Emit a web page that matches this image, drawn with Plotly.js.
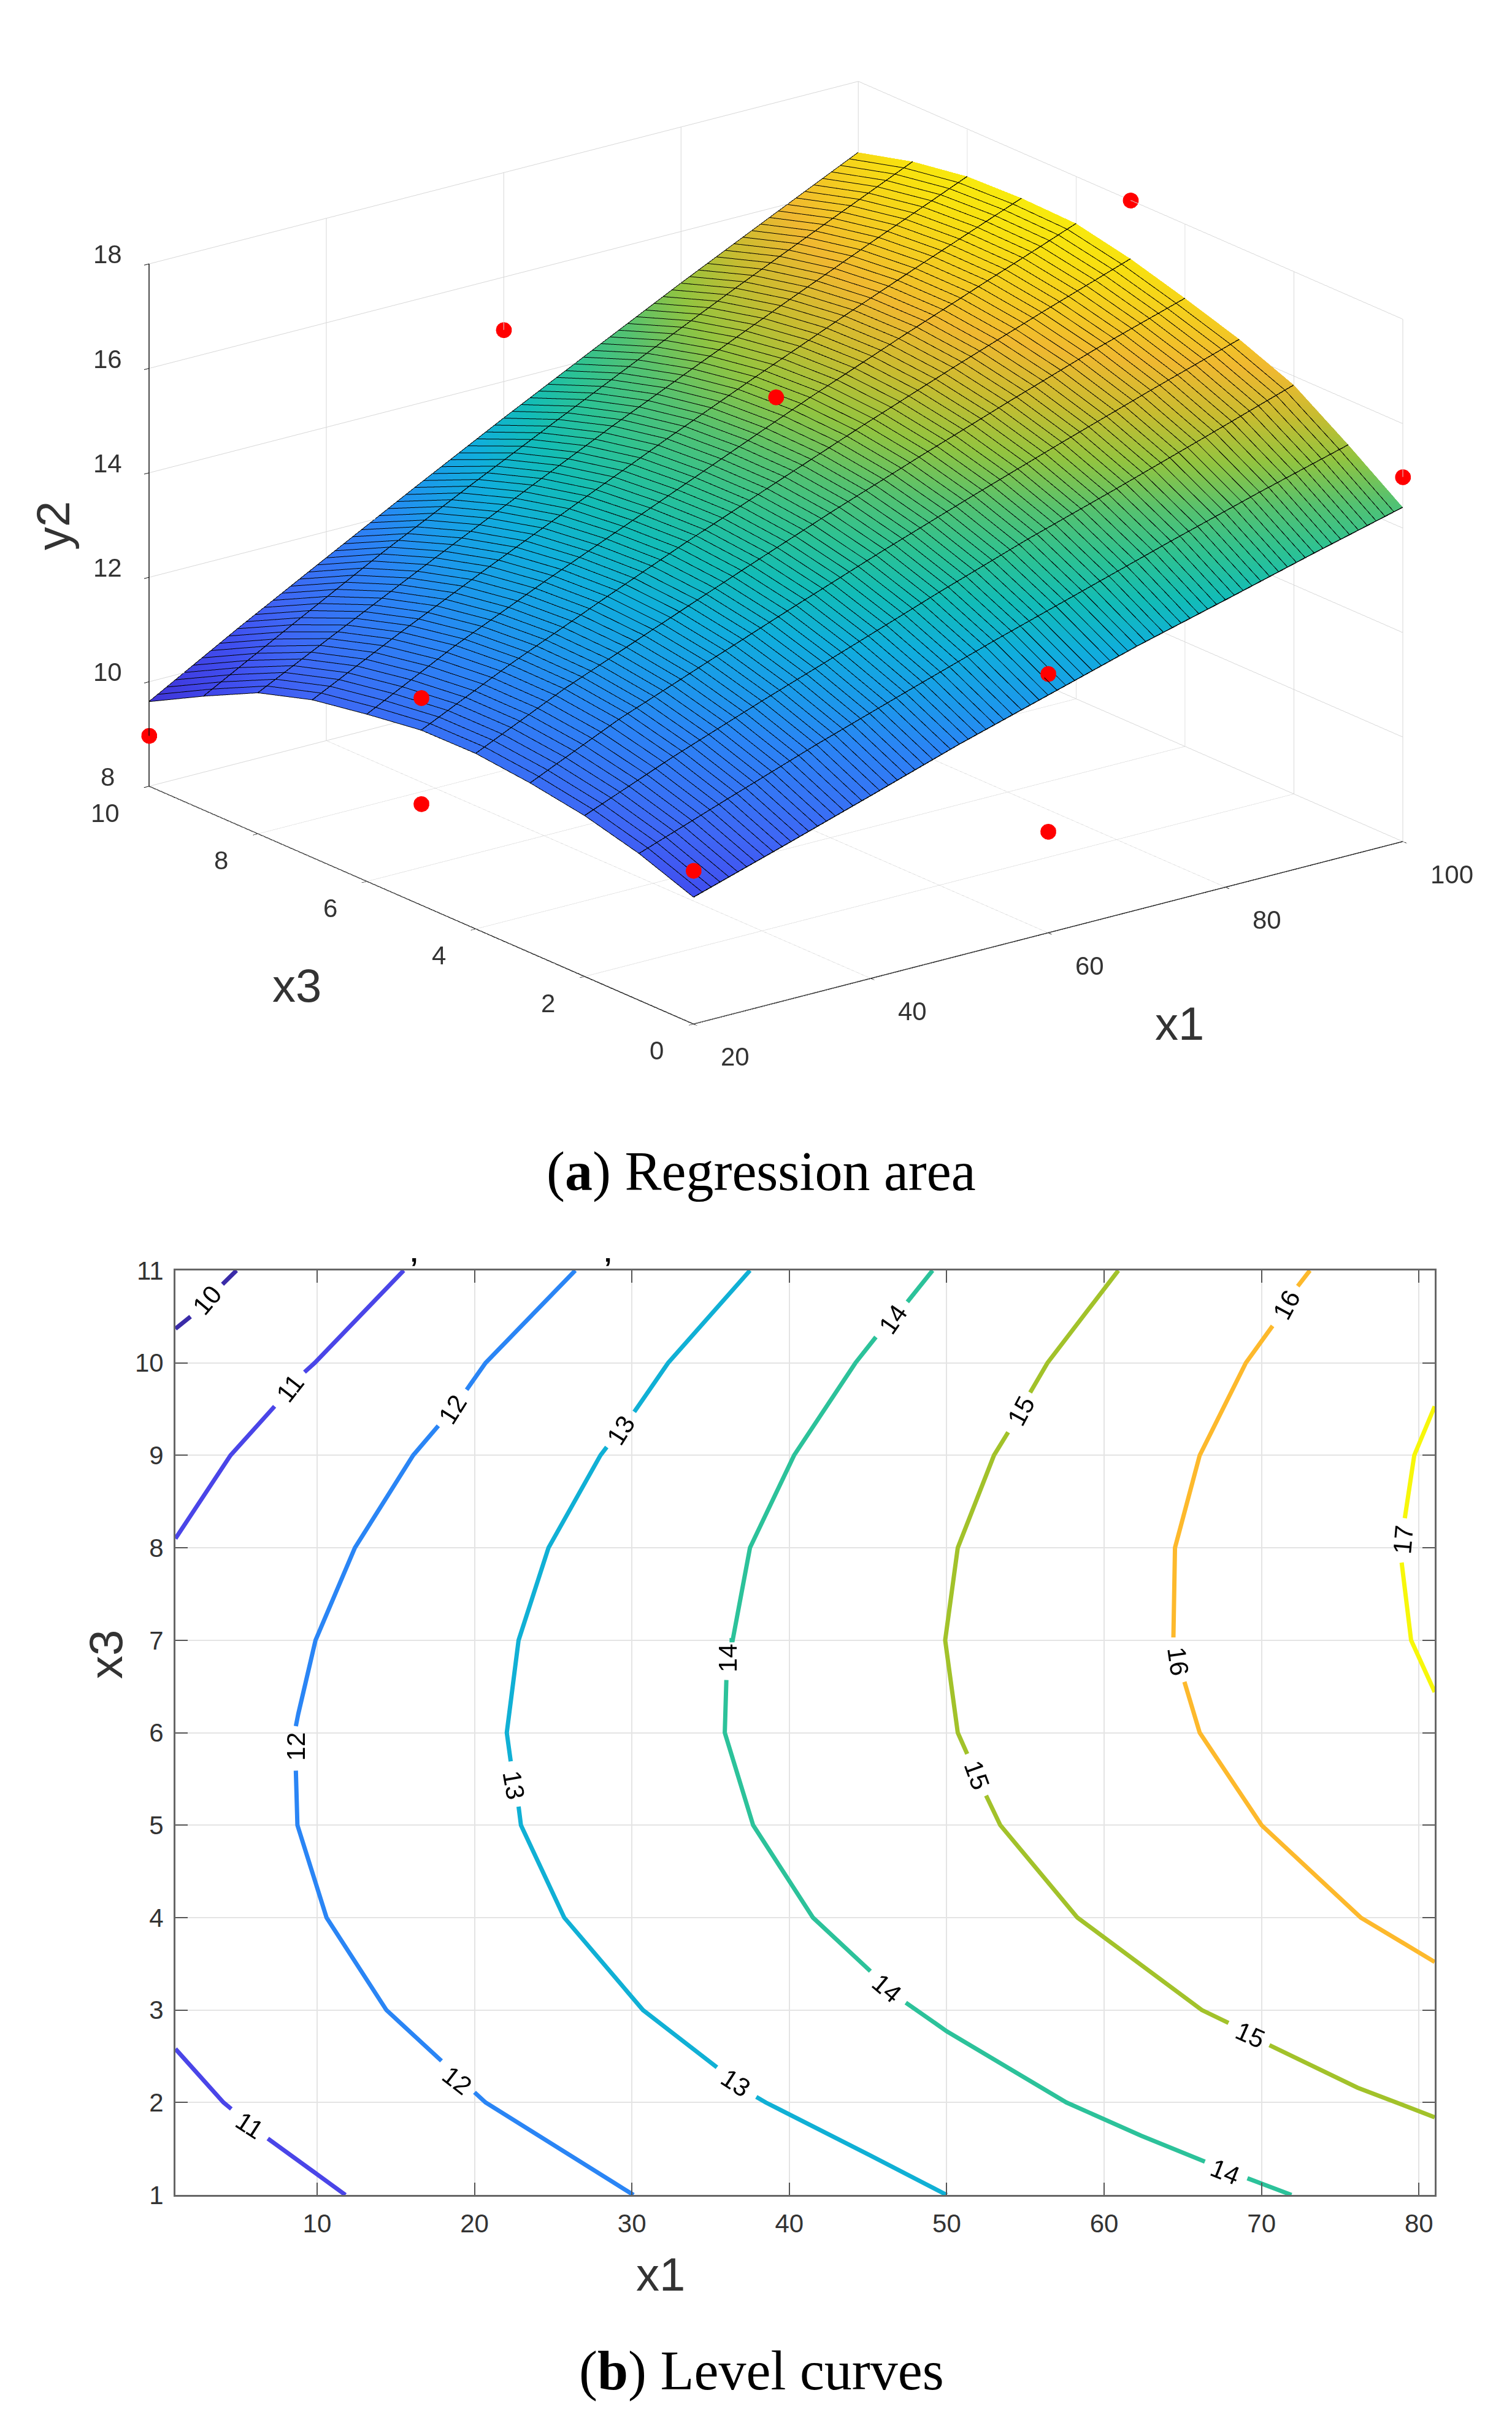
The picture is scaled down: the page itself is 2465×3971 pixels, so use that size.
<!DOCTYPE html>
<html>
<head>
<meta charset="utf-8">
<script src="https://cdn.plot.ly/plotly-3.0.1.min.js"></script>
<style>html,body{margin:0;padding:0;background:#fff}</style>
</head>
<body>
<div id="chart" style="width:2465px;height:3971px"></div>
<script>
// ---- Panel (a): regression surface
var x1Grid = [20,30,40,50,60,70,80,90,100];
var x3Grid = [0,1,2,3,4,5,6,7,8,9,10];
var y2AtX3_0  = [10.43,10.96,11.50,12.05,12.55,13.05,13.50,13.96,14.40];
var y2AtX3_1  = [10.81,11.42,12.02,12.58,13.13,13.65,14.17,14.67,15.14];
var y2AtX3_2  = [11.08,11.77,12.40,13.00,13.61,14.19,14.72,15.27,15.83];
var y2AtX3_3  = [11.25,12.03,12.69,13.34,13.97,14.57,15.15,15.71,16.25];
var y2AtX3_4  = [11.36,12.16,12.86,13.55,14.22,14.85,15.46,16.05,16.58];
var y2AtX3_5  = [11.35,12.17,12.92,13.65,14.34,15.02,15.67,16.29,16.88];
var y2AtX3_6  = [11.20,12.08,12.86,13.60,14.34,15.08,15.77,16.44,17.10];
var y2AtX3_7  = [11.02,11.88,12.70,13.49,14.27,15.02,15.75,16.45,17.13];
var y2AtX3_8  = [10.70,11.56,12.41,13.24,14.06,14.84,15.61,16.36,17.09];
var y2AtX3_9  = [10.18,11.11,12.03,12.89,13.73,14.56,15.37,16.15,16.92];
var y2AtX3_10 = [ 9.62,10.58,11.50,12.41,13.30,14.16,15.01,15.83,16.64];
var y2Surface = [y2AtX3_0,y2AtX3_1,y2AtX3_2,y2AtX3_3,y2AtX3_4,y2AtX3_5,y2AtX3_6,y2AtX3_7,y2AtX3_8,y2AtX3_9,y2AtX3_10];

var obsX1 = [20,20,20,20,60,60,60,60,100,100];
var obsX3 = [10,5,5,0,10,5,0,0,5,0];
var obsY2 = [8.97,11.97,9.94,10.94,14.99,15.98,12.96,9.94,18.0,14.98];

var x1Ticks3d = [20,40,60,80,100];
var x3Ticks3d = [0,2,4,6,8,10];
var y2Ticks3d = [8,10,12,14,16,18];

// ---- Panel (b): level curves (null = gap for the label)
var levels = [10,11,12,13,14,15,16,17];
var levelColors = ['#3a2ba8','#4a45e8','#2a85f5','#10b0d5','#2cc29a','#a2c22a','#fdb92c','#f7f70a'];
var surfaceStops = [9.5,10,10.5,11,12,12.5,13,13.5,14,14.5,15,15.5,16,16.8,17.5];
var surfaceColors = ['#4030d0','#4040e4','#4050f0','#3f66f5','#2a85f5','#1a9bea','#10aedc','#12bcb8','#2cc294','#55c270','#92c440','#c8bc30','#f0b830','#f8e010','#f7f70a'];
var c10x = [1,1.96,null,3.99,4.88];
var c10y = [10.37,10.5,null,10.85,11];
var c11ax = [1,4.5,7.3,null,9.2,9.85,15.5];
var c11ay = [8.1,9,9.53,null,9.9,10,11];
var c11bx = [1,4.05,4.55,null,6.87,11.8];
var c11by = [2.58,2,1.93,null,1.61,1];
var c12x = [26.4,20.7,19.5,null,17.7,16.1,12.4,9.9,8.8,8.65,null,8.65,8.75,10.6,14.4,17.9,null,20,20.7,30.1];
var c12y = [11,10,9.71,null,9.32,9,8,7,6.2,6.07,null,5.59,5,4,3,2.45,null,2.11,2,1];
var c13x = [37.5,32.3,30.15,null,28.4,28,24.7,22.8,22.05,22.3,null,22.8,22.95,25.7,30.7,35.4,null,37.9,38.5,45.1,50];
var c13y = [11,10,9.47,null,9.09,9,8,7,6,5.69,null,5.2,5,4,3,2.38,null,2.06,2,1.43,1];
var c14x = [49.1,47.5,null,45.5,44.2,40.3,37.5,36.4,36.2,null,36,35.9,37.7,41.5,45.15,null,47.4,50,57.6,62.35,66.4,null,69.1,71.9];
var c14y = [11,10.66,null,10.28,10,9,8,7,7,null,6.57,6,5,4,3.42,null,3.08,2.77,2,1.64,1.36,null,1.18,1];
var c15x = [60.9,56.4,55.3,null,53.9,53,50.7,49.9,50.7,51.3,null,52.5,53.4,58.3,66.2,67.9,null,70.5,76.1,81];
var c15y = [11,10,9.68,null,9.25,9,8,7,6,5.77,null,5.32,5,4,3,2.86,null,2.62,2.16,1.84];
var c16x = [73.07,72.3,null,70.7,69,66.07,64.5,64.4,null,65.1,66.07,70,76.3,81];
var c16y = [11,10.83,null,10.4,10,9,8,7.03,null,6.55,6,5,4,3.52];
var c17x = [81,79.7,79.1,null,78.9,79.5,81];
var c17y = [9.53,9,8.32,null,7.84,7,6.44];

var labelText  = ['10','11','11','12','12','12','13','13','13','14','14','14','14','15','15','15','16','16','17'];
var labelX     = [3,8.3,5.7,18.6,8.65,18.9,29.3,22.5,36.6,46.6,36.1,46.2,67.7,54.7,51.9,69.3,71.6,64.7,79];
var labelY     = [10.68,9.73,1.75,9.5,5.85,2.24,9.27,5.43,2.21,10.47,6.81,3.23,1.25,9.48,5.54,2.73,10.63,6.77,8.09];
var labelAngle = [-50,-52,33,-58,-90,38,-58,80,33,-55,-90,40,22,-62,70,24,-62,82,-85];

var x1Ticks2d = [10,20,30,40,50,60,70,80];
var x3Ticks2d = [1,2,3,4,5,6,7,8,9,10,11];

// ---- Styling
var W = 2465, H = 3971;
var tickFont = {family:'Liberation Sans, Arial, sans-serif', size:42, color:'#333'};
var titleFont = {family:'Liberation Sans, Arial, sans-serif', size:76, color:'#333'};
var capFont = {family:'Liberation Serif, serif', size:90, color:'#000'};
function paperAnn(text,px,py,font,angle){
  return {xref:'paper',yref:'paper',x:px/W,y:1-py/H,text:text,showarrow:false,font:font,
          textangle:angle||0,xanchor:'center',yanchor:'middle'};
}
var zmin=9.5, zmax=17.5;
var colorscale = surfaceStops.map(function(l,i){return [(l-zmin)/(zmax-zmin),surfaceColors[i]];});

var traces = [];
traces.push({type:'surface',x:x1Grid,y:x3Grid,z:y2Surface,cmin:zmin,cmax:zmax,colorscale:colorscale,showscale:false,
  lighting:{ambient:1,diffuse:0,specular:0,roughness:1,fresnel:0},
  contours:{x:{show:true,start:20,end:100,size:1,color:'#000',width:2},
            y:{show:true,start:0,end:10,size:1,color:'#000',width:2},
            z:{show:false}},
  hoverinfo:'skip',scene:'scene'});
// the x3 mesh lines run along the rows of the surface table
y2Surface.forEach(function(row,i){
  traces.push({type:'scatter3d',mode:'lines',x:x1Grid,y:x1Grid.map(function(){return x3Grid[i];}),z:row,
    line:{color:'#000',width:3},hoverinfo:'skip',scene:'scene'});
});
traces.push({type:'scatter3d',mode:'markers',x:obsX1,y:obsX3,z:obsY2,
  marker:{color:'#ff0000',size:15,line:{width:0}},scene:'scene'});

var curves = [[c10x,c10y,0],[c11ax,c11ay,1],[c11bx,c11by,1],[c12x,c12y,2],[c13x,c13y,3],[c14x,c14y,4],[c15x,c15y,5],[c16x,c16y,6],[c17x,c17y,7]];
curves.forEach(function(c){
  traces.push({type:'scatter',mode:'lines',x:c[0],y:c[1],connectgaps:false,
    line:{color:levelColors[c[2]],width:7},hoverinfo:'skip',xaxis:'x',yaxis:'y'});
});

var sceneAnn = [];
x1Ticks3d.forEach(function(v){
  sceneAnn.push({x:v,y:0,z:8,text:String(v),showarrow:false,font:tickFont,xshift:v===100?80:68,yshift:-54});
});
x3Ticks3d.forEach(function(v){
  sceneAnn.push({x:20,y:v,z:8,text:String(v),showarrow:false,font:tickFont,xshift:v===10?-72:-60,yshift:-44});
});
y2Ticks3d.forEach(function(v){
  sceneAnn.push({x:20,y:10,z:v,text:String(v),showarrow:false,font:tickFont,xshift:-68,yshift:15});
});

var anns = [];
labelText.forEach(function(t,i){
  anns.push({xref:'x',yref:'y',x:labelX[i],y:labelY[i],text:t,showarrow:false,textangle:labelAngle[i],
    font:{family:'Liberation Sans, Arial, sans-serif',size:42,color:'#000'},xanchor:'center',yanchor:'middle'});
});
anns.push(paperAnn('y2',86,857,titleFont,-90));
anns.push(paperAnn('x3',484,1606,titleFont));
anns.push(paperAnn('x1',1923,1669,titleFont));
anns.push(paperAnn('x1',1077,3707,titleFont));
anns.push(paperAnn('x3',172,2697,titleFont,-90));
anns.push(paperAnn('(<b>a</b>) Regression area',1241,1910,capFont));
anns.push(paperAnn('(<b>b</b>) Level curves',1241,3865,capFont));
var markFont = {family:'Liberation Sans, Arial, sans-serif',size:44,color:'#000'};
anns.push(paperAnn('<b>’</b>',675,2066,markFont));
anns.push(paperAnn('<b>’</b>',991,2066,markFont));

function axis3d(range,ticks){
  return {range:range,tickmode:'array',tickvals:ticks,showbackground:false,gridcolor:'#d8d8d8',gridwidth:2,
    showticklabels:false,showline:true,linecolor:'#111',linewidth:3,ticks:'outside',tickcolor:'#111',tickwidth:2,ticklen:10,
    zeroline:false,showspikes:false,title:{text:''}};
}
function axis2d(range,ticks,domain){
  return {range:range,domain:domain,tickmode:'array',tickvals:ticks,ticktext:ticks.map(String),showgrid:true,gridcolor:'#e4e4e4',gridwidth:2,
    zeroline:false,showline:true,linecolor:'#666',linewidth:3,mirror:'ticks',ticks:'inside',ticklen:20,tickwidth:2,tickcolor:'#555',
    ticklabelstandoff:8,tickfont:tickFont,title:{text:''}};
}
var sceneHeight = 1700, sceneWidth = 2300, sceneCx = 1265, sceneCy = 900.5;
var boxScale = 1.715;
var eyeScale = 2;
var layout = {
  width:W,height:H,paper_bgcolor:'#fff',plot_bgcolor:'#fff',showlegend:false,
  margin:{l:0,r:0,t:0,b:0,pad:0},
  xaxis:axis2d([1,81],x1Ticks2d,[286/W,2339/W]),
  yaxis:axis2d([1,11],x3Ticks2d,[1-3578/H,1-2071/H]),
  scene:{
    domain:{x:[(sceneCx-sceneWidth/2)/W,(sceneCx+sceneWidth/2)/W],y:[1-(sceneCy+sceneHeight/2)/H,1-(sceneCy-sceneHeight/2)/H]},
    xaxis:axis3d([20,100],x1Ticks3d),
    yaxis:axis3d([0,10],x3Ticks3d),
    zaxis:axis3d([8,18],y2Ticks3d),
    aspectmode:'manual',aspectratio:{x:boxScale,y:boxScale,z:0.62*boxScale},
    camera:{projection:{type:'orthographic'},up:{x:0,y:0,z:1},center:{x:0,y:0,z:0},
            eye:{x:-0.5737*eyeScale,y:-0.7474*eyeScale,z:0.3353*eyeScale}},
    annotations:sceneAnn
  },
  annotations:anns
};
Plotly.newPlot('chart',traces,layout,{displayModeBar:false,plotGlPixelRatio:1});
</script>
</body>
</html>
